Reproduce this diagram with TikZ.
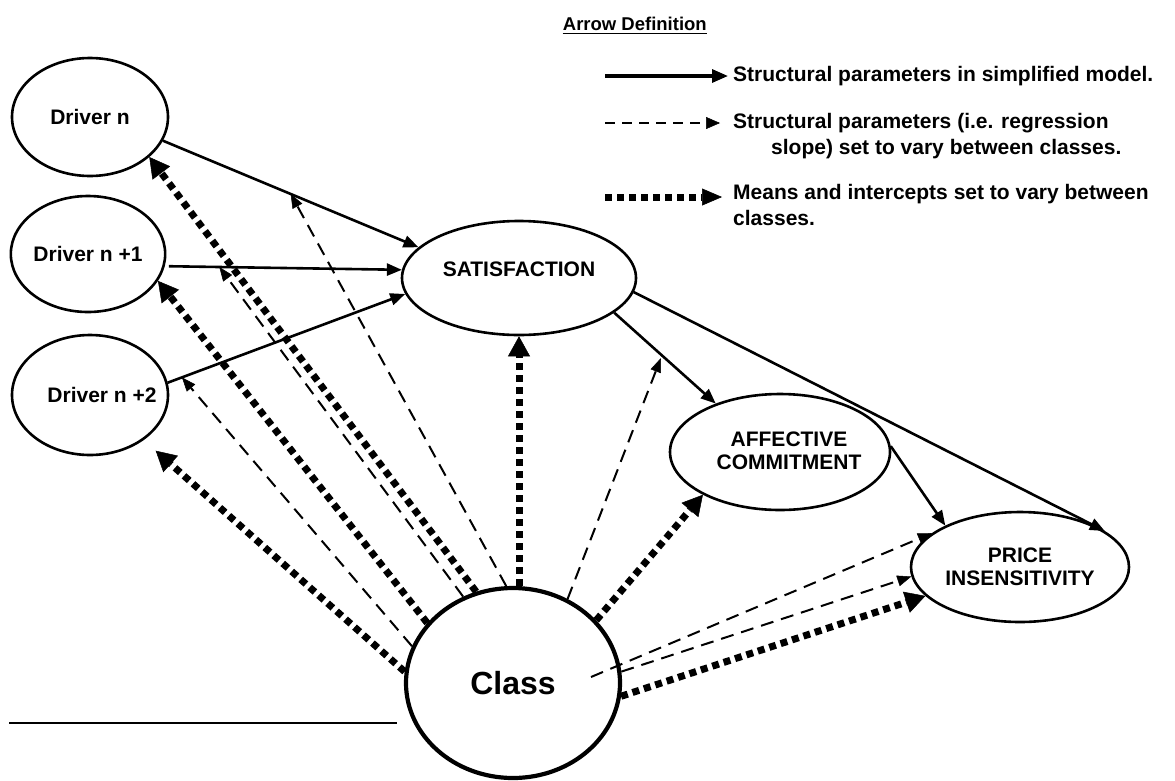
\documentclass[tikz,border=0pt]{standalone}
\usepackage{fontspec}
\setmainfont{Liberation Sans}
\usetikzlibrary{arrows.meta,shapes.geometric,calc}
\begin{document}
\begin{tikzpicture}[x=1pt,y=-1pt,
  latent/.style={draw,ellipse,line width=2.6pt,inner sep=0pt,align=center,
    font=\fontsize{21}{23}\selectfont\bfseries},
  lbl/.style={font=\fontsize{21}{23}\selectfont\bfseries,align=center,inner sep=0pt},
  solidarrow/.style={line width=2.6pt,-{Triangle[length=15pt,width=12pt]}},
  dasharrow/.style={line width=2pt,dash pattern=on 13pt off 8pt,
    -{Triangle[length=14pt,width=11pt,line width=0.5pt]}},
  dotarrow/.style={line width=7pt,dash pattern=on 7pt off 5pt,
    -{Triangle[length=20pt,width=22pt,line width=0.5pt]}},
  legendtext/.style={anchor=base west,align=left,inner sep=0pt,
    font=\fontsize{21}{26}\selectfont\bfseries},
]
\fill[white] (0,0) rectangle (1175,780);
\useasboundingbox (0,0) rectangle (1175,780);

% latent variables
\node[latent,minimum width=156pt,minimum height=118pt] (dn) at (90,117) {Driver n};
\node[latent,minimum width=152pt,minimum height=116pt] (dn1) at (88,254) {Driver n +1};
\node[latent,minimum width=156pt,minimum height=120pt,
  label={[lbl,xshift=12pt]center:Driver n +2}] (dn2) at (90,395) {};
\node[latent,minimum width=234pt,minimum height=114pt,
  label={[lbl,yshift=9pt]center:SATISFACTION}] (sat) at (519,278) {};
\node[latent,minimum width=220pt,minimum height=116pt,
  label={[lbl,xshift=9pt,yshift=1pt]center:AFFECTIVE\\COMMITMENT}] (aff) at (780,452) {};
\node[latent,minimum width=218pt,minimum height=110pt] (pr) at (1020,567) {PRICE\\INSENSITIVITY};
\node[draw,ellipse,line width=4.2pt,inner sep=0pt,minimum width=214pt,minimum height=190pt,
  font=\fontsize{32}{34}\selectfont\bfseries] (cl) at (513,683) {Class};

% structural paths of the simplified model
\draw[solidarrow] (dn.-18) -- coordinate[pos=0.5] (mA) (sat.163);
\draw[solidarrow,shorten <=4pt] (dn1.-9) -- coordinate[pos=0.23] (mB) (sat.176);
\draw[solidarrow] (dn2.9) -- coordinate[pos=0.06] (mC) (sat.-172);
\draw[solidarrow] (sat.-20) -- coordinate[pos=0.47] (mD) (aff.143);
\draw[solidarrow] (sat.-7) -- (pr.23);
\draw[solidarrow] (aff.3) -- (pr.151);

% slopes varying between classes
\coordinate (d1s) at ($(cl.center)+(78,-6)$);
\draw[dasharrow] (cl.94) -- (mA);
\draw[dasharrow] (cl.120) -- (mB);
\draw[dasharrow] (cl.160) -- (mC);
\draw[dasharrow,shorten >=3pt] (cl.57) -- (mD);
\draw[dasharrow] (d1s) -- (pr.159);
\draw[dasharrow] (cl.6) -- (pr.185);

% means and intercepts varying between classes
\draw[dotarrow] (cl.112) -- (dn.-34);
\draw[dotarrow] (cl.145) -- (dn1.-21);
\draw[dotarrow,shorten >=16pt] (cl.174) -- (dn2.-40);
\draw[dotarrow] (sat.south |- cl.north) -- (sat.south);
\draw[dotarrow] (cl.37) -- (aff.-151);
\draw[dotarrow] (cl.-7) -- (pr.-163);

% legend
\node[anchor=base east,inner sep=0pt,font=\fontsize{18.5}{20}\selectfont\bfseries]
  (title) at (707,30) {Arrow Definition};
\draw[line width=1.5pt] ([yshift=-3.5pt]title.base west) -- ([yshift=-3.5pt]title.base east);

\coordinate (l1a) at (605,76);  \coordinate (l1b) at (728,76);
\coordinate (l2a) at (605,123); \coordinate (l2b) at (720,123);
\coordinate (l3a) at (605,197); \coordinate (l3b) at (722,197);
\draw[line width=3.2pt,-{Triangle[length=16pt,width=13pt]}] (l1a) -- (l1b);
\draw[line width=2.4pt,dash pattern=on 10pt off 7pt,
  -{Triangle[length=14pt,width=12pt,line width=0.5pt]}] (l2a) -- (l2b);
\draw[line width=7pt,dash pattern=on 7pt off 5pt,
  -{Triangle[length=20pt,width=17pt,line width=0.5pt]}] (l3a) -- (l3b);
% multi-line nodes sit on the baseline of their last line
\node[legendtext] (t1) at (733,81) {Structural parameters in simplified model.};
\node[legendtext] (t2) at (733,154) {Structural parameters (i.e. regression\\\hspace*{38pt}slope) set to vary between classes.};
\node[legendtext] (t3) at (733,225) {Means and intercepts set to vary between\\classes.};

% rule at the lower left
\coordinate (r1) at (9,723); \coordinate (r2) at (397,723);
\draw[line width=1.3pt] (r1) -- (r2);
\end{tikzpicture}
\end{document}
